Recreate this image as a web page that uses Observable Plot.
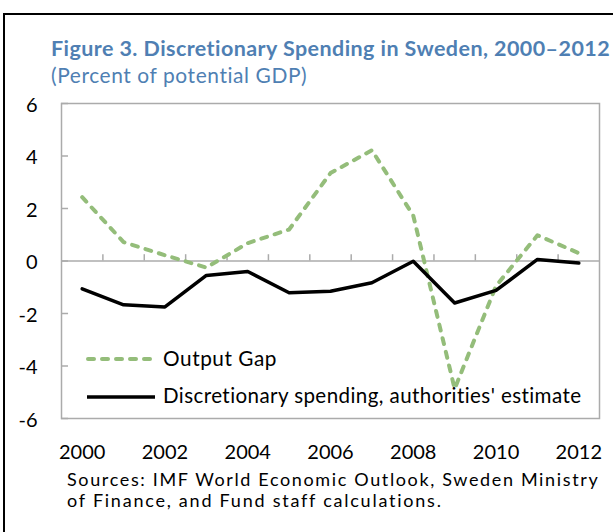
<!DOCTYPE html>
<html>
<head>
<meta charset="utf-8">
<script src="https://cdn.jsdelivr.net/npm/d3@7"></script>
<script src="https://cdn.jsdelivr.net/npm/@observablehq/plot@0.6"></script>
<style>
  body { margin: 0; background: #fff; }
  #wrap { position: relative; width: 613px; height: 532px; overflow: hidden; background: #fff; font-family: Lato, sans-serif; }
  #border { position: absolute; left: 3px; top: 13px; width: 700px; height: 700px; border: 2px solid #000; box-sizing: border-box; }
  #chart { position: absolute; left: 0; top: 0; }
  .txt { position: absolute; white-space: nowrap; }
  #legend { position: absolute; left: 0; top: 0; }
</style>
</head>
<body>
<div id="wrap">
  <div id="border"></div>
  <div id="chart"></div>
</div>
<script>
// ---- data ----
const years = [2000, 2001, 2002, 2003, 2004, 2005, 2006, 2007, 2008, 2009, 2010, 2011, 2012];
const outputGap = [2.43, 0.72, 0.22, -0.25, 0.68, 1.2, 3.35, 4.22, 1.73, -4.87, -0.95, 0.98, 0.3];
const discretionary = [-1.06, -1.67, -1.75, -0.55, -0.4, -1.21, -1.15, -0.83, -0.01, -1.6, -1.12, 0.06, -0.08];
const yTicks = [-6, -4, -2, 0, 2, 4, 6];
const xTickLabels = [2000, 2002, 2004, 2006, 2008, 2010, 2012];
const seriesNames = ["Output Gap", "Discretionary spending, authorities' estimate"];
const titleText = "Figure 3. Discretionary Spending in Sweden, 2000\u20132012";
const subtitleText = "(Percent of potential GDP)";
const captionLines = ["Sources: IMF World Economic Outlook, Sweden Ministry", "of Finance, and Fund staff calculations."];

const data = years.map((year, i) => ({year, gap: outputGap[i], disc: discretionary[i]}));
const xDomain = [years[0] - 0.5, years[years.length - 1] + 0.5];
const boundaries = years.slice(1).map(y => y - 0.5);

const frameGray = "#ababab";
const green = "#94bd7a";
const blue = "#4f7fb3";

const chart = Plot.plot({
  width: 613,
  height: 470,
  marginTop: 103,
  marginBottom: 52,
  marginLeft: 61,
  marginRight: 14,
  x: {domain: xDomain},
  y: {domain: [-6, 6]},
  style: {fontFamily: "Lato, sans-serif", fontSize: "20px", color: "#000", background: "transparent"},
  marks: [
    Plot.frame({stroke: frameGray, strokeWidth: 1.5}),
    Plot.ruleY([0], {stroke: frameGray, strokeWidth: 1.5}),
    Plot.ruleX(boundaries, {y1: 0, y2: 0.24, stroke: frameGray, strokeWidth: 1.5}),
    Plot.ruleY(yTicks, {x1: xDomain[0], x2: xDomain[0] + 0.17, stroke: frameGray, strokeWidth: 1.5}),
    Plot.axisY({ticks: yTicks, tickSize: 0, tickPadding: 24, label: null, dy: 2, tickFormat: d => String(d)}),
    Plot.axisX({ticks: xTickLabels, tickSize: 0, tickPadding: 26, label: null, tickFormat: d => String(d)}),
    Plot.line(data, {x: "year", y: "gap", stroke: green, strokeWidth: 4, strokeDasharray: "6,8", strokeLinecap: "round"}),
    Plot.line(data, {x: "year", y: "disc", stroke: "#000", strokeWidth: 3.5})
  ]
});
document.getElementById("chart").appendChild(chart);

// ---- text helpers ----
const wrap = document.getElementById("wrap");
const cv = document.createElement("canvas").getContext("2d");
function addText(txt, {x, baseline, size, weight = "normal", color = "#000", width, fitExp = 0.75}) {
  cv.font = `${weight} ${size}px Lato`;
  let m = cv.measureText(txt);
  if (width) {
    size = size * Math.pow(width / m.width, fitExp);
    cv.font = `${weight} ${size}px Lato`;
    m = cv.measureText(txt);
  }
  const ls = width ? (width - m.width) / txt.length : 0;
  const asc = m.fontBoundingBoxAscent, desc = m.fontBoundingBoxDescent;
  const lh = size;
  const top = baseline - asc - (lh - (asc + desc)) / 2;
  const d = document.createElement("div");
  d.className = "txt";
  d.textContent = txt;
  Object.assign(d.style, {
    left: x + "px",
    top: top + "px",
    fontSize: size + "px",
    fontWeight: weight,
    lineHeight: lh + "px",
    letterSpacing: ls + "px",
    color
  });
  wrap.appendChild(d);
}

addText(titleText, {x: 51, baseline: 56.7, size: 19, weight: "bold", color: blue, width: 560});
addText(subtitleText, {x: 51, baseline: 84, size: 17.5, color: blue, width: 257});
addText(captionLines[0], {x: 67, baseline: 485.5, size: 18, width: 533, fitExp: 0});
addText(captionLines[1], {x: 67, baseline: 507, size: 18, width: 376, fitExp: 0});

// legend
const lg = d3.select(wrap).append("svg").attr("id", "legend").attr("width", 613).attr("height", 532);
lg.append("line").attr("x1", 88).attr("x2", 154).attr("y1", 359).attr("y2", 359)
  .attr("stroke", green).attr("stroke-width", 4).attr("stroke-dasharray", "6,8").attr("stroke-linecap", "round");
lg.append("line").attr("x1", 87).attr("x2", 155).attr("y1", 397).attr("y2", 397)
  .attr("stroke", "#000").attr("stroke-width", 3.5);
addText(seriesNames[0], {x: 163, baseline: 366.7, size: 18, width: 114});
addText(seriesNames[1], {x: 163, baseline: 403, size: 18, width: 420});
</script>
</body>
</html>
